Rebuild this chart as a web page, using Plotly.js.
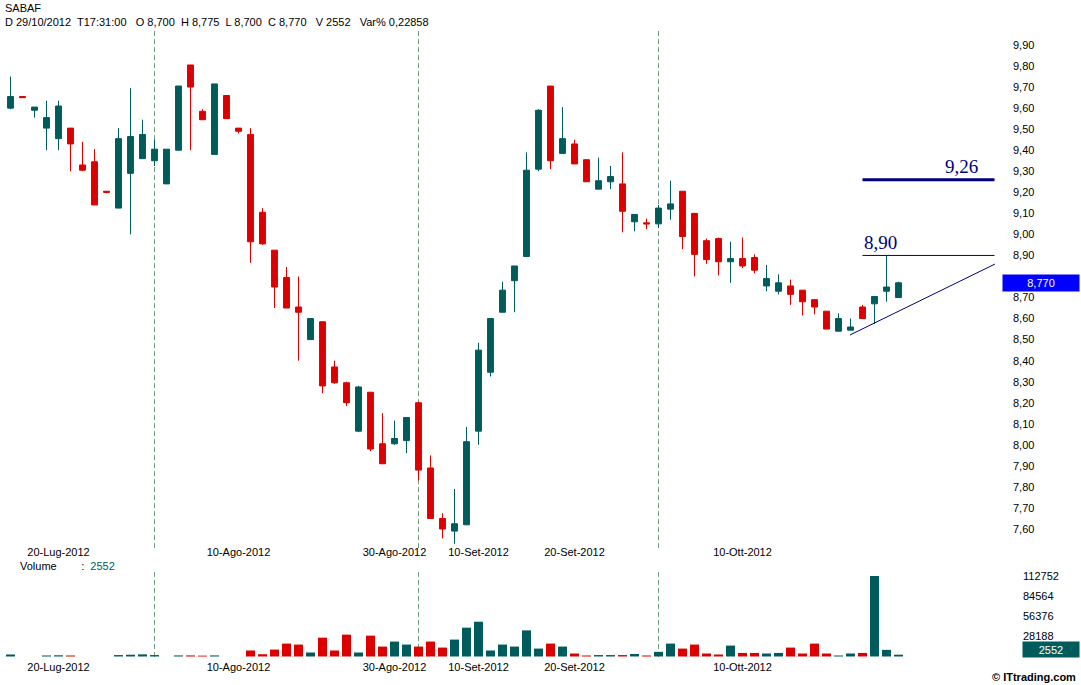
<!DOCTYPE html>
<html><head><meta charset="utf-8">
<script src="https://cdn.plot.ly/plotly-3.0.1.min.js"></script>
<style>html,body{margin:0;padding:0;background:#fff;} #chart{width:1081px;height:685px;}</style>
</head><body><div id="chart"></div>
<script>
const dates = [
 '2012-07-16','2012-07-17','2012-07-18','2012-07-19','2012-07-20','2012-07-23','2012-07-24','2012-07-25','2012-07-26','2012-07-27','2012-07-30','2012-07-31',
 '2012-08-01','2012-08-02','2012-08-03','2012-08-06','2012-08-07','2012-08-08','2012-08-09','2012-08-10','2012-08-13','2012-08-14','2012-08-16','2012-08-17','2012-08-20','2012-08-21','2012-08-22','2012-08-23','2012-08-24','2012-08-27','2012-08-28','2012-08-29','2012-08-30','2012-08-31',
 '2012-09-03','2012-09-04','2012-09-05','2012-09-06','2012-09-07','2012-09-10','2012-09-11','2012-09-12','2012-09-13','2012-09-14','2012-09-17','2012-09-18','2012-09-19','2012-09-20','2012-09-21','2012-09-24','2012-09-25','2012-09-26','2012-09-27','2012-09-28',
 '2012-10-01','2012-10-02','2012-10-03','2012-10-04','2012-10-05','2012-10-08','2012-10-09','2012-10-10','2012-10-11','2012-10-12','2012-10-15','2012-10-16','2012-10-17','2012-10-18','2012-10-19','2012-10-22','2012-10-23','2012-10-24','2012-10-25','2012-10-26','2012-10-29'
];
const open = [9.60,9.655,9.59,9.505,9.455,9.505,9.33,9.345,9.205,9.125,9.29,9.36,9.35,9.24,9.40,9.805,9.585,9.38,9.66,9.505,
 9.475,9.105,8.925,8.795,8.655,8.50,8.585,8.37,8.295,8.065,8.25,8.005,8.005,8.02,8.20,7.89,7.65,7.59,7.62,8.065,
 8.345,8.63,8.78,8.895,9.31,9.705,9.385,9.43,9.355,9.215,9.25,9.24,9.06,9.055,9.05,9.12,9.205,9.10,8.97,8.98,
 8.87,8.885,8.89,8.755,8.73,8.755,8.735,8.69,8.635,8.54,8.545,8.655,8.67,8.73,8.70];
const high = [9.75,9.655,9.605,9.635,9.635,9.505,9.44,9.405,9.205,9.505,9.695,9.545,9.45,9.405,9.705,9.805,9.595,9.715,9.66,9.505,
 9.505,9.125,8.925,8.845,8.80,8.60,8.585,8.40,8.30,8.28,8.25,8.15,8.115,8.13,8.205,7.95,7.675,7.79,8.085,8.485,
 8.60,8.775,8.85,9.39,9.595,9.705,9.605,9.45,9.355,9.365,9.325,9.39,9.095,9.075,9.14,9.255,9.205,9.10,8.98,8.985,
 8.965,8.985,8.905,8.855,8.81,8.785,8.735,8.69,8.635,8.625,8.60,8.665,8.705,8.90,8.775];
const low = [9.595,9.65,9.555,9.40,9.40,9.30,9.30,9.14,9.195,9.125,9.00,9.36,9.325,9.24,9.40,9.40,9.545,9.38,9.55,9.48,
 8.865,8.95,8.65,8.65,8.40,8.50,8.245,8.29,8.185,8.06,7.97,7.91,8.00,7.96,7.83,7.65,7.555,7.53,7.62,8.00,
 8.325,8.63,8.63,8.895,9.30,9.31,9.385,9.335,9.25,9.215,9.215,9.01,9.015,9.025,9.03,9.07,8.93,8.80,8.86,8.805,
 8.77,8.84,8.815,8.73,8.715,8.665,8.615,8.62,8.55,8.54,8.545,8.60,8.575,8.68,8.70];
const close = [9.655,9.65,9.605,9.555,9.61,9.43,9.305,9.14,9.20,9.455,9.465,9.475,9.405,9.405,9.705,9.70,9.545,9.715,9.55,9.49,
 8.965,8.955,8.75,8.65,8.63,8.60,8.28,8.295,8.20,8.275,7.98,7.91,8.03,8.13,7.88,7.65,7.60,7.625,8.015,8.45,
 8.60,8.735,8.85,9.305,9.59,9.35,9.455,9.335,9.25,9.255,9.275,9.11,9.095,9.05,9.125,9.145,8.99,8.905,8.88,8.87,
 8.885,8.85,8.83,8.79,8.77,8.715,8.68,8.655,8.55,8.60,8.56,8.60,8.705,8.75,8.77];
const volume = [2800,0,0,1400,1700,1400,0,0,0,2000,2500,3000,2000,0,1500,1500,1200,1500,0,0,
 8400,3200,9700,18100,16700,5600,26400,8400,30600,5600,29200,13900,20900,16700,13900,20900,12500,23700,40400,48700,
 8400,16700,13900,36600,11100,18100,13900,4200,1400,2000,2000,2000,3500,1400,6500,18100,11100,16700,4200,2800,
 15300,5000,5000,4200,5000,12500,4200,18100,4200,1400,4200,5000,112752,9300,2552];

const dateTickDates = ['2012-07-20','2012-08-10','2012-08-30','2012-09-10','2012-09-20','2012-10-10'];
const dateTickLabels = ['20-Lug-2012','10-Ago-2012','30-Ago-2012','10-Set-2012','20-Set-2012','10-Ott-2012'];
const monthStarts = ['2012-08-01','2012-09-03','2012-10-01'];
const priceTicks = [7.6,7.7,7.8,7.9,8.0,8.1,8.2,8.3,8.4,8.5,8.6,8.7,8.9,9.0,9.1,9.2,9.3,9.4,9.5,9.6,9.7,9.8,9.9];
const levels = [9.26, 8.90];
const levelLabels = ['9,26', '8,90'];
const levelX = [71, 82];
const trendX = [69.96, 82.04];
const trendY = [8.522, 8.859];

const UP = '#005c5c', DOWN = '#dc0000', NAVY = '#00007a';
const idx = dates.map((d, i) => i);
const W = 1081, H = 685;
const py = px => 1 - px / H;
const last = dates.length - 1;
const maxVol = Math.max(...volume);
const volTicks = [1, 2, 3, 4].map(k => maxVol * k / 4);
const fmt = (v, d) => v.toFixed(d).replace('.', ',');
const volPx = maxVol / 80.5;

const volColors = idx.map(i => close[i] >= open[i] ? UP : DOWN);

const traces = [
  {type: 'candlestick', x: idx, open: open, high: high, low: low, close: close,
   xaxis: 'x', yaxis: 'y', whiskerwidth: 0,
   increasing: {line: {color: UP, width: 1}, fillcolor: UP},
   decreasing: {line: {color: DOWN, width: 1}, fillcolor: DOWN},
   hoverinfo: 'skip', showlegend: false},
  {type: 'bar', x: idx, y: volume, xaxis: 'x2', yaxis: 'y2',
   marker: {color: volColors, line: {width: 0}}, hoverinfo: 'skip', showlegend: false}
];

const xRange = [-0.875, (1000 - 10.5) / 12];
const tickIdx = dateTickDates.map(d => dates.indexOf(d));
const font = {family: '"Liberation Sans", Arial, sans-serif', size: 11, color: '#000'};

const shapes = [];
monthStarts.forEach(d => {
  const i = dates.indexOf(d);
  shapes.push({type: 'line', layer: 'below', xref: 'x', yref: 'paper', x0: i, x1: i, y0: py(548), y1: py(30),
    line: {color: '#6f9f80', width: 1, dash: '5px,3px'}});
  shapes.push({type: 'line', layer: 'below', xref: 'x', yref: 'paper', x0: i, x1: i, y0: py(657), y1: py(572),
    line: {color: '#6f9f80', width: 1, dash: '5px,3px'}});
});
shapes.push({type: 'line', xref: 'x', yref: 'y', x0: levelX[0], x1: levelX[1], y0: levels[0], y1: levels[0], line: {color: NAVY, width: 3}});
shapes.push({type: 'line', xref: 'x', yref: 'y', x0: levelX[0], x1: levelX[1], y0: levels[1], y1: levels[1], line: {color: NAVY, width: 1}});
shapes.push({type: 'line', xref: 'x', yref: 'y', x0: trendX[0], x1: trendX[1], y0: trendY[0], y1: trendY[1], line: {color: NAVY, width: 1}});

const annotations = [
  {xref: 'paper', yref: 'paper', x: 3 / W, y: py(8), xanchor: 'left', yanchor: 'middle', showarrow: false,
   text: 'SABAF', font: font},
  {xref: 'paper', yref: 'paper', x: 3 / W, y: py(22), xanchor: 'left', yanchor: 'middle', showarrow: false,
   text: 'D 29/10/2012  T17:31:00   O ' + fmt(open[last], 3) + '  H ' + fmt(high[last], 3) + '  L ' + fmt(low[last], 3) +
         '  C ' + fmt(close[last], 3) + '   V ' + volume[last] + '   Var% 0,22858', font: font},
  {xref: 'paper', yref: 'paper', x: 18 / W, y: py(566), xanchor: 'left', yanchor: 'middle', showarrow: false,
   text: 'Volume&nbsp;&nbsp;&nbsp;&nbsp;&nbsp;&nbsp;&nbsp;&nbsp;:&nbsp;&nbsp;<span style="color:' + UP + '">' + volume[last] + '</span>', font: font},
  {xref: 'x', yref: 'y', x: 80.8, y: levels[0], xanchor: 'right', yanchor: 'bottom', yshift: 1, showarrow: false,
   text: levelLabels[0], font: {family: '"Liberation Serif", "Times New Roman", serif', size: 19, color: NAVY}},
  {xref: 'x', yref: 'y', x: 70.96, y: levels[1], xanchor: 'left', yanchor: 'bottom', yshift: 0, showarrow: false,
   text: levelLabels[1], font: {family: '"Liberation Serif", "Times New Roman", serif', size: 19, color: NAVY}},
  {xref: 'paper', yref: 'y', x: 1041 / W, y: close[last], xanchor: 'center', yanchor: 'middle', showarrow: false,
   text: fmt(close[last], 3), bgcolor: '#0000ff', width: 74, height: 14, borderpad: 1,
   font: {family: font.family, size: 11, color: '#fff'}},
  {xref: 'paper', yref: 'paper', x: 1051 / W, y: py(649.5), xanchor: 'center', yanchor: 'middle', showarrow: false,
   text: String(volume[last]), bgcolor: UP, width: 54, height: 13, borderpad: 1,
   font: {family: font.family, size: 11, color: '#fff'}},
  {xref: 'paper', yref: 'paper', x: 1078 / W, y: py(677), xanchor: 'right', yanchor: 'middle', showarrow: false,
   text: '<b>© ITtrading.com</b>', font: {family: font.family, size: 11, color: '#000'}}
];

const layout = {
  width: W, height: H, margin: {l: 0, r: 0, t: 0, b: 0},
  paper_bgcolor: '#fff', plot_bgcolor: '#fff', separators: ',.',
  showlegend: false, font: font, bargap: 0.25, boxgap: 0.3,
  xaxis: {domain: [0, 1000 / W], range: xRange, anchor: 'y', tickmode: 'array', tickvals: tickIdx, ticktext: dateTickLabels,
    showgrid: false, zeroline: false, showline: false, ticks: '', tickfont: font, rangeslider: {visible: false}, fixedrange: true},
  yaxis: {domain: [py(544), py(30)], range: [7.60 - 15 / 210.4, 9.90 + 15 / 210.4], side: 'right', anchor: 'free', position: 1012 / W,
    tickmode: 'array', tickvals: priceTicks, tickformat: '.2f', showgrid: false, zeroline: false, showline: false, ticks: '', tickfont: font},
  xaxis2: {domain: [0, 1000 / W], range: xRange, anchor: 'y2', matches: 'x', tickmode: 'array', tickvals: tickIdx, ticktext: dateTickLabels,
    showgrid: false, zeroline: false, showline: false, ticks: '', tickfont: font, rangeslider: {visible: false}},
  yaxis2: {domain: [py(659), py(570)], range: [-2.5 * volPx, 86.5 * volPx], side: 'right', anchor: 'free', position: 1022 / W,
    tickmode: 'array', tickvals: volTicks, ticktext: volTicks.map(v => String(Math.round(v))),
    showgrid: false, zeroline: false, showline: false, ticks: '', tickfont: font},
  shapes: shapes, annotations: annotations
};

Plotly.newPlot('chart', traces, layout, {staticPlot: true, displayModeBar: false});
</script></body></html>
